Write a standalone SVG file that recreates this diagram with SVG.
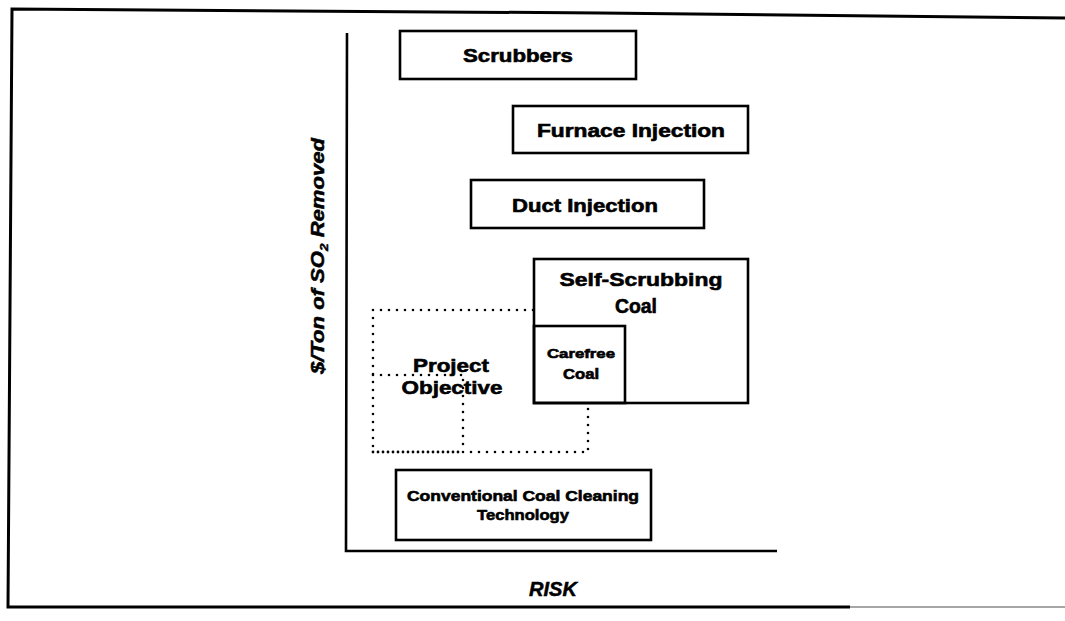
<svg xmlns="http://www.w3.org/2000/svg" width="1065" height="621" viewBox="0 0 1065 621">
<style>
.box{fill:none;stroke:#000;stroke-width:2.6}
.ax{fill:none;stroke:#000;stroke-width:2.6}
.frame{fill:none;stroke:#000;stroke-width:3}
.dot{fill:none;stroke:#000;stroke-width:2.6;stroke-linecap:round;stroke-dasharray:0 8}
.dense{fill:none;stroke:#000;stroke-width:2.8;stroke-linecap:round;stroke-dasharray:0 5}
.t{font-family:"Liberation Sans",Arial,sans-serif;font-weight:bold;fill:#000;stroke:#000;stroke-width:0.6;text-anchor:middle}
.l{font-family:"Liberation Sans",Arial,sans-serif;font-weight:bold;font-style:italic;fill:#000;stroke:#000;stroke-width:0.5;text-anchor:middle}
</style>
<rect width="1065" height="621" fill="#fff"/>
<g id="frame">
<path class="frame" d="M1065,18 L600,13 L12,9 L8,607 L850,607"/>
<path d="M850,607 L1065,607" stroke="#888" stroke-width="1.5" fill="none"/>
</g>
<g id="axes">
<path class="ax" d="M347,33 L346,551 L777,551"/>
<text class="l" x="553" y="596" font-size="20">RISK</text>
<text class="l" transform="translate(324,256) rotate(-90)" font-size="18" textLength="236" lengthAdjust="spacingAndGlyphs">$/Ton of SO<tspan font-size="11" dy="4">2</tspan><tspan dy="-4"> Removed</tspan></text>
</g>
<g id="scrubbers">
<rect class="box" x="400" y="31" width="236" height="48"/>
<text class="t" x="518" y="62" font-size="18" textLength="110" lengthAdjust="spacingAndGlyphs">Scrubbers</text>
</g>
<g id="furnace-injection">
<rect class="box" x="513" y="106" width="235" height="47"/>
<text class="t" x="631" y="137" font-size="18" textLength="188" lengthAdjust="spacingAndGlyphs">Furnace Injection</text>
</g>
<g id="duct-injection">
<rect class="box" x="471" y="180" width="233" height="48"/>
<text class="t" x="585" y="212" font-size="18" textLength="146" lengthAdjust="spacingAndGlyphs">Duct Injection</text>
</g>
<g id="project-objective">
<path class="dot" d="M533,310 L373,310 L373,452"/>
<path class="dense" d="M373,452 L463,452"/>
<path class="dot" d="M463,452 L588,452 L588,404"/>
<path class="dot" d="M373,375 L466,375"/>
<path class="dot" d="M463,380 L463,452"/>
<text class="t" x="451" y="372" font-size="19" textLength="76" lengthAdjust="spacingAndGlyphs">Project</text>
<text class="t" x="452" y="394" font-size="19" textLength="101" lengthAdjust="spacingAndGlyphs">Objective</text>
</g>
<g id="self-scrubbing-coal">
<rect class="box" x="534" y="259" width="214" height="144" fill="#fff"/>
<text class="t" x="641" y="286" font-size="19" textLength="163" lengthAdjust="spacingAndGlyphs">Self-Scrubbing</text>
<text class="t" x="636" y="313" font-size="20" textLength="42" lengthAdjust="spacingAndGlyphs">Coal</text>
</g>
<g id="carefree-coal">
<rect class="box" x="534" y="326" width="91" height="77"/>
<text class="t" x="581" y="358" font-size="13" textLength="68" lengthAdjust="spacingAndGlyphs">Carefree</text>
<text class="t" x="581" y="379" font-size="14" textLength="36" lengthAdjust="spacingAndGlyphs">Coal</text>
</g>
<g id="conventional">
<rect class="box" x="396" y="470" width="255" height="70"/>
<text class="t" x="523" y="501" font-size="15" textLength="232" lengthAdjust="spacingAndGlyphs">Conventional Coal Cleaning</text>
<text class="t" x="523" y="520" font-size="15" textLength="92" lengthAdjust="spacingAndGlyphs">Technology</text>
</g>
</svg>
